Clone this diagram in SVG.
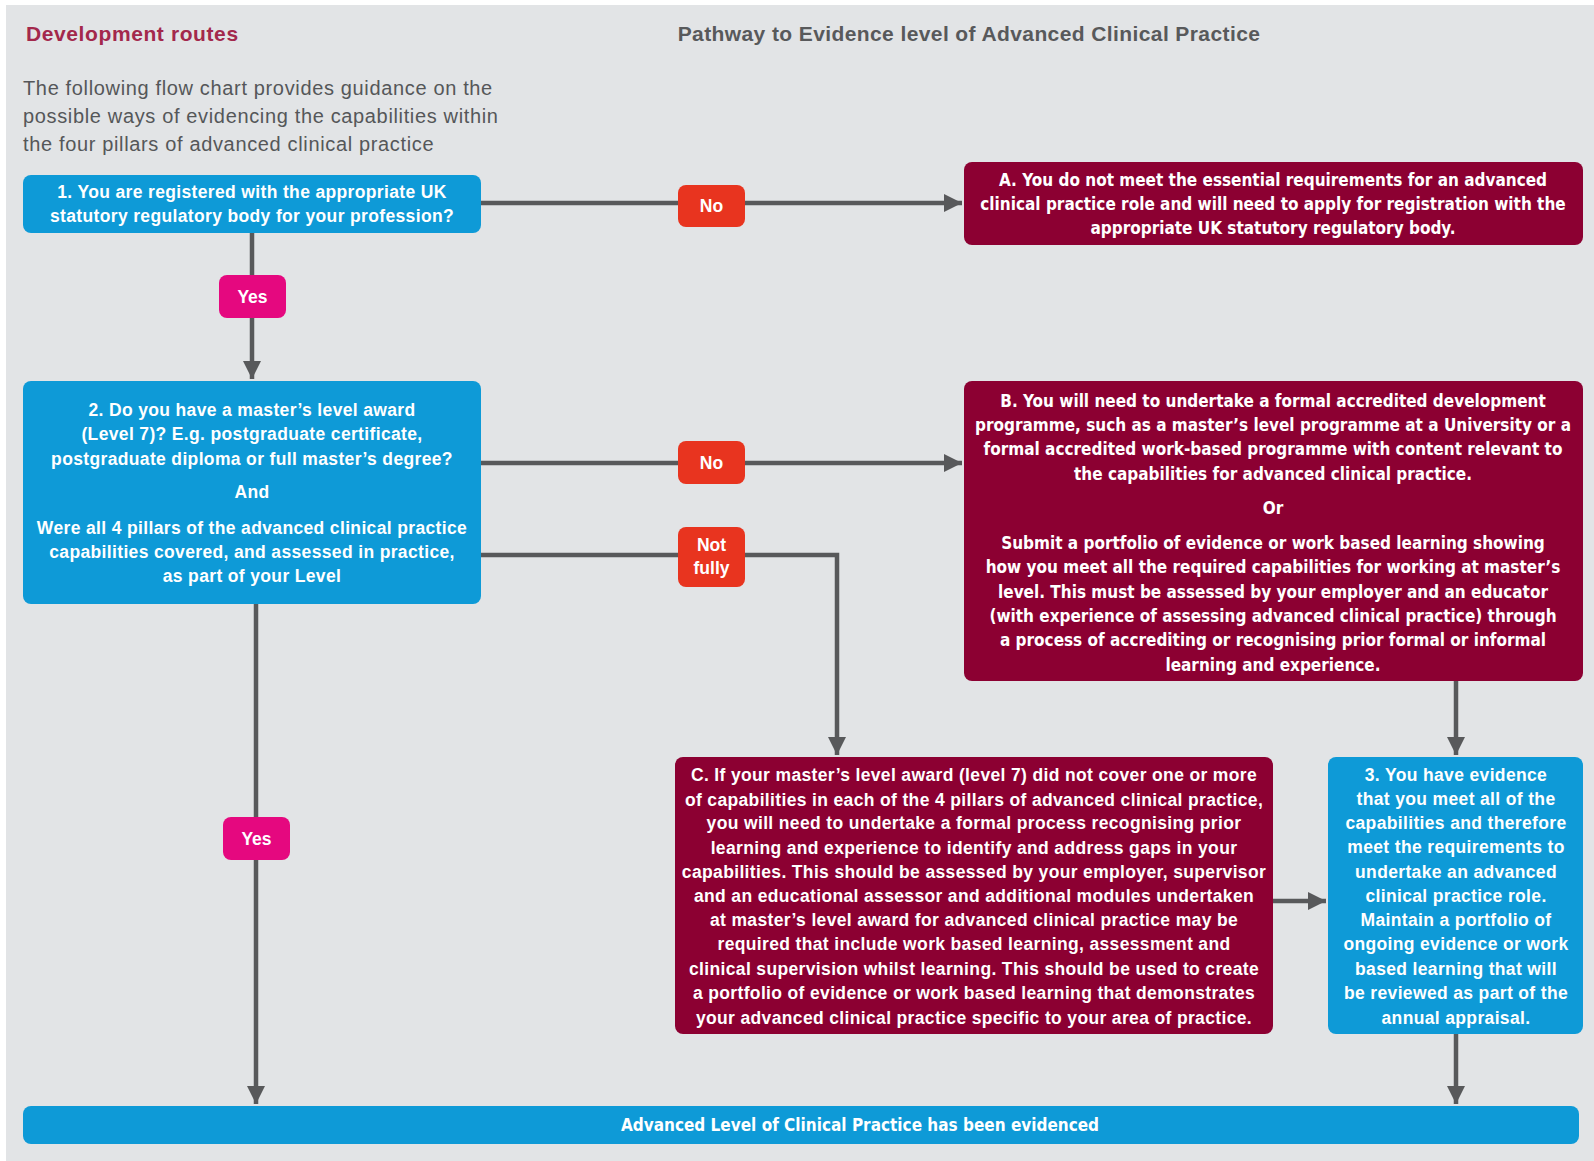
<svg xmlns="http://www.w3.org/2000/svg" width="1594" height="1161" viewBox="0 0 1594 1161">
<defs>
<style>
.bg{fill:#e2e4e6}
.blue{fill:#0e9ad7}
.crim{fill:#8c0032}
.no{fill:#e8341f}
.yes{fill:#e5087f}
.t{font-family:"Liberation Sans",Arial,sans-serif;font-weight:bold;font-size:17.5px;letter-spacing:0.35px;fill:#fff;text-anchor:middle}
.tn{font-family:"DejaVu Sans Condensed","Liberation Sans",sans-serif;font-weight:bold;font-size:17px;fill:#fff;text-anchor:middle}
.lbl{font-family:"Liberation Sans",Arial,sans-serif;font-weight:bold;font-size:17.5px;fill:#fff;text-anchor:middle}
.intro{font-family:"Liberation Sans",Arial,sans-serif;font-size:20px;letter-spacing:0.65px;fill:#555759}
.hd{font-family:"Liberation Sans",Arial,sans-serif;font-weight:bold;font-size:21px}
.conn{stroke:#58595b;stroke-width:4.5;fill:none}
</style>
<marker id="ah" viewBox="0 0 10 10" refX="10" refY="5" markerWidth="4" markerHeight="4.4" orient="auto" markerUnits="strokeWidth">
<path d="M0,0 L10,5 L0,10 z" fill="#58595b"/>
</marker>
</defs>
<rect x="0" y="0" width="1594" height="1161" fill="#ffffff"/>
<rect class="bg" x="6" y="5" width="1588" height="1156"/>
<g id="header">
<text class="hd" x="26" y="41" fill="#a3284c" letter-spacing="0.6">Development routes</text>
<text class="hd" x="969" y="41" fill="#58595b" text-anchor="middle" letter-spacing="0.4">Pathway to Evidence level of Advanced Clinical Practice</text>
<text class="intro" x="23" y="95">The following flow chart provides guidance on the</text>
<text class="intro" x="23" y="123">possible ways of evidencing the capabilities within</text>
<text class="intro" x="23" y="151">the four pillars of advanced clinical practice</text>
</g>
<g id="connectors">
<path class="conn" d="M481,203 H962" marker-end="url(#ah)"/>
<path class="conn" d="M252,233 V379" marker-end="url(#ah)"/>
<path class="conn" d="M481,463 H962" marker-end="url(#ah)"/>
<path class="conn" d="M481,555 H837 V755" marker-end="url(#ah)"/>
<path class="conn" d="M256,604 V1104" marker-end="url(#ah)"/>
<path class="conn" d="M1456,681 V755" marker-end="url(#ah)"/>
<path class="conn" d="M1273,901 H1326" marker-end="url(#ah)"/>
<path class="conn" d="M1456,1034 V1104" marker-end="url(#ah)"/>
</g>
<g id="lbl-no1"><rect class="no" x="678" y="185" width="67" height="42" rx="8"/><text class="lbl" x="711.5" y="212">No</text></g>
<g id="lbl-yes1"><rect class="yes" x="219" y="275" width="67" height="43" rx="8"/><text class="lbl" x="252.5" y="303">Yes</text></g>
<g id="lbl-no2"><rect class="no" x="678" y="441" width="67" height="43" rx="8"/><text class="lbl" x="711.5" y="469">No</text></g>
<g id="lbl-notfully"><rect class="no" x="678" y="527" width="67" height="60" rx="8"/><text class="lbl" x="711.5" y="551">Not</text><text class="lbl" x="711.5" y="574">fully</text></g>
<g id="lbl-yes2"><rect class="yes" x="223" y="817" width="67" height="43" rx="8"/><text class="lbl" x="256.5" y="845">Yes</text></g>
<g id="box1">
<rect class="blue" x="23" y="175" width="458" height="58" rx="8"/>
<text class="t" x="252" y="198">1. You are registered with the appropriate UK</text>
<text class="t" x="252" y="222">statutory regulatory body for your profession?</text>
</g>
<g id="boxA">
<rect class="crim" x="964" y="162" width="619" height="83" rx="8"/>
<text class="tn" x="1273" y="186">A. You do not meet the essential requirements for an advanced</text>
<text class="tn" x="1273" y="210">clinical practice role and will need to apply for registration with the</text>
<text class="tn" x="1273" y="234">appropriate UK statutory regulatory body.</text>
</g>
<g id="box2">
<rect class="blue" x="23" y="381" width="458" height="223" rx="8"/>
<text class="t" x="252" y="416">2. Do you have a master’s level award</text>
<text class="t" x="252" y="440">(Level 7)? E.g. postgraduate certificate,</text>
<text class="t" x="252" y="465">postgraduate diploma or full master’s degree?</text>
<text class="t" x="252" y="498">And</text>
<text class="t" x="252" y="534">Were all 4 pillars of the advanced clinical practice</text>
<text class="t" x="252" y="558">capabilities covered, and assessed in practice,</text>
<text class="t" x="252" y="582">as part of your Level</text>
</g>
<g id="boxB">
<rect class="crim" x="964" y="381" width="619" height="300" rx="8"/>
<text class="tn" x="1273" y="407">B. You will need to undertake a formal accredited development</text>
<text class="tn" x="1273" y="431">programme, such as a master’s level programme at a University or a</text>
<text class="tn" x="1273" y="455">formal accredited work-based programme with content relevant to</text>
<text class="tn" x="1273" y="480">the capabilities for advanced clinical practice.</text>
<text class="tn" x="1273" y="514">Or</text>
<text class="tn" x="1273" y="549">Submit a portfolio of evidence or work based learning showing</text>
<text class="tn" x="1273" y="573">how you meet all the required capabilities for working at master’s</text>
<text class="tn" x="1273" y="598">level. This must be assessed by your employer and an educator</text>
<text class="tn" x="1273" y="622">(with experience of assessing advanced clinical practice) through</text>
<text class="tn" x="1273" y="646">a process of accrediting or recognising prior formal or informal</text>
<text class="tn" x="1273" y="671">learning and experience.</text>
</g>
<g id="boxC">
<rect class="crim" x="675" y="757" width="598" height="277" rx="8"/>
<text class="t" x="974" y="781">C. If your master’s level award (level 7) did not cover one or more</text>
<text class="t" x="974" y="806">of capabilities in each of the 4 pillars of advanced clinical practice,</text>
<text class="t" x="974" y="829">you will need to undertake a formal process recognising prior</text>
<text class="t" x="974" y="854">learning and experience to identify and address gaps in your</text>
<text class="t" x="974" y="878">capabilities. This should be assessed by your employer, supervisor</text>
<text class="t" x="974" y="902">and an educational assessor and additional modules undertaken</text>
<text class="t" x="974" y="926">at master’s level award for advanced clinical practice may be</text>
<text class="t" x="974" y="950">required  that include work based learning, assessment and</text>
<text class="t" x="974" y="975">clinical supervision whilst learning. This should be used to create</text>
<text class="t" x="974" y="999">a portfolio of evidence or work based learning that demonstrates</text>
<text class="t" x="974" y="1024">your advanced clinical practice specific to your area of practice.</text>
</g>
<g id="box3">
<rect class="blue" x="1328" y="757" width="255" height="277" rx="8"/>
<text class="t" x="1456" y="781">3. You have evidence</text>
<text class="t" x="1456" y="805">that you meet all of the</text>
<text class="t" x="1456" y="829">capabilities and therefore</text>
<text class="t" x="1456" y="853">meet the requirements to</text>
<text class="t" x="1456" y="878">undertake an advanced</text>
<text class="t" x="1456" y="902">clinical practice role.</text>
<text class="t" x="1456" y="926">Maintain a portfolio of</text>
<text class="t" x="1456" y="950">ongoing evidence or work</text>
<text class="t" x="1456" y="975">based learning that will</text>
<text class="t" x="1456" y="999">be reviewed as part of the</text>
<text class="t" x="1456" y="1024">annual appraisal.</text>
</g>
<g id="boxEnd">
<rect class="blue" x="23" y="1106" width="1556" height="38" rx="8"/>
<text class="tn" x="860" y="1131">Advanced Level of Clinical Practice has been evidenced</text>
</g>
</svg>
